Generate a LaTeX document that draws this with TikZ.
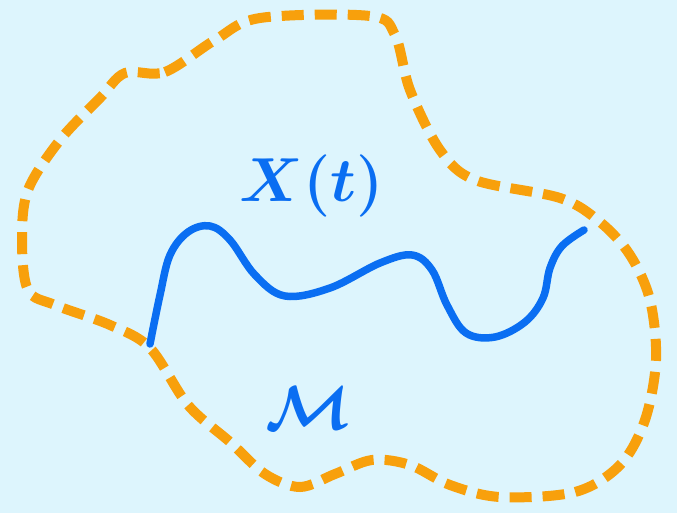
\documentclass[tikz,border=0pt]{standalone}
\usepackage{tikz}
\usetikzlibrary{calc}
\definecolor{bgcyan}{HTML}{DDF5FD}
\definecolor{setorange}{HTML}{F8A00C}
\definecolor{pathblue}{HTML}{0A6EF2}
\begin{document}
\begin{tikzpicture}[
    x=1pt, y=-1pt,
    boundary/.style={setorange, line width=10pt, dash pattern=on 22pt off 11pt},
    walk/.style={pathblue, line width=7.5pt, line cap=round, line join=round},
    hand/.style={pathblue, font=\Huge\boldmath, scale=2.5}
  ]
    \fill[bgcyan] (0,0) rectangle (677,513);
    \useasboundingbox (0,0) rectangle (677,513);
    % the set M
    \draw[boundary] plot[smooth cycle, tension=0.55] coordinates {
      (125,73) (165,72) (215,40) (260,18) (370,16) (395,35) (410,90)
      (440,150) (475,180) (560,198) (600,222) (630,255) (650,300)
      (656,360) (645,420) (620,465) (575,492) (500,497) (450,485)
      (410,465) (372,460) (335,474) (300,487) (265,474) (230,442)
      (188,405) (150,348) (110,325) (55,305) (28,290) (22,240)
      (28,190) (60,140) (100,98)};
    % the path X(t)
    \draw[walk] plot[smooth, tension=0.6] coordinates {
      (150,344) (160,295) (170,255) (188,232) (210,226) (230,240)
      (255,275) (285,296) (330,288) (380,263) (412,255) (432,270)
      (447,305) (466,333) (495,337) (525,322) (543,298) (550,268)
      (562,246) (584,230)};
    \node[hand] (xt) at (312,186) {$X(t)$};
    \node[hand] (m) at (308,408) {$\mathcal{M}$};
\end{tikzpicture}
\end{document}
